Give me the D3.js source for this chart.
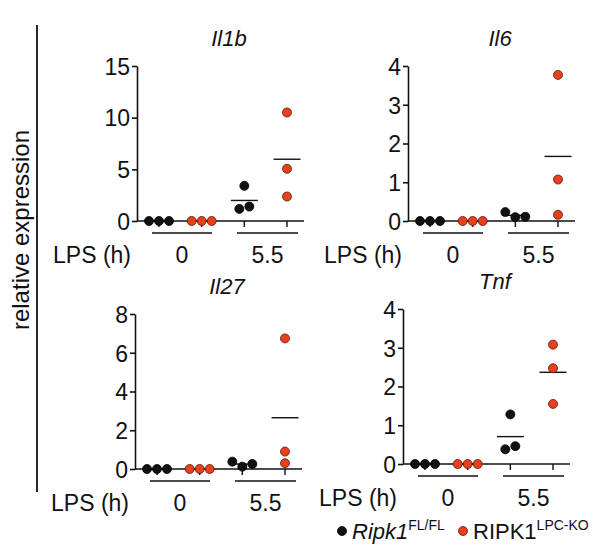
<!DOCTYPE html>
<html lang="en">
<head>
<meta charset="UTF-8">
<title>relative expression</title>
<style>
  body { margin: 0; background: #fff; }
  svg text { font-family: "Liberation Sans", Arial, Helvetica, sans-serif; fill: #111; }
</style>
</head>
<body>
<svg width="595" height="546"></svg>
<script src="https://cdn.jsdelivr.net/npm/d3@7"></script>
<script>
// data
let genes = ["Il1b", "Il6", "Il27", "Tnf"];
let lpsTimes = ["0", "5.5"];
let genotypes = ["FL", "KO"];
let groupKeys = ["0-FL", "0-KO", "5.5-FL", "5.5-KO"];
let yMaxes = [15, 4, 8, 4];
let yTicks = [[0, 5, 10, 15], [0, 1, 2, 3, 4], [0, 2, 4, 6, 8], [0, 1, 2, 3, 4]];
// one array per group: 0 h FL, 0 h KO, 5.5 h FL, 5.5 h KO
let il1b = [[0, 0, 0], [0, 0, 0], [1.17, 3.4, 1.4], [10.5, 5.06, 2.37]];
let il6 = [[0, 0, 0], [0, 0, 0], [0.23, 0.1, 0.11], [3.77, 1.07, 0.16]];
let il27 = [[0, 0, 0], [0, 0, 0], [0.38, 0.12, 0.26], [6.74, 0.9, 0.3]];
let tnf = [[0, 0, 0], [0, 0, 0], [0.38, 1.28, 0.46], [3.08, 2.47, 1.55]];
let allValues = [il1b, il6, il27, tnf];

// layout
let svg = d3.select("svg");
let origins = [[137, 221], [408, 221], [135, 469], [403, 464]]; // axis x, zero y
let plotH = 155;
let axisLen = 167;
let r = 4.5;
let colors = { FL: "#111111", KO: "#e8401c" };
let strokes = { FL: "#000000", KO: "#5a1608" };

let x = d3.scalePoint().domain(groupKeys).range([22, 150]);

function swarm(vals, y) {
    // cluster points that overlap vertically and spread them sideways
    let idx = vals.map((v, i) => i).sort((a, b) => y(vals[a]) - y(vals[b]));
    let clusters = [];
    idx.forEach(i => {
        let last = clusters[clusters.length - 1];
        if (last && Math.abs(y(vals[i]) - y(vals[last[last.length - 1]])) < 2 * r) {
            last.push(i);
        } else {
            clusters.push([i]);
        }
    });
    let offs = new Array(vals.length).fill(0);
    clusters.forEach(c => {
        c.sort((a, b) => a - b);
        c.forEach((i, k) => { offs[i] = (k - (c.length - 1) / 2) * 10; });
    });
    return offs;
}

genes.forEach((gene, gi) => {
    let [ox, oy] = origins[gi];
    let g = svg.append("g").attr("transform", "translate(" + ox + "," + oy + ")");
    let y = d3.scaleLinear().domain([0, yMaxes[gi]]).range([0, -plotH]);

    // title
    g.append("text")
        .attr("x", 92).attr("y", -plotH - 20)
        .attr("text-anchor", "middle")
        .style("font-style", "italic")
        .style("font-size", "22px")
        .text(gene);

    // y axis
    let ya = g.append("g").call(d3.axisLeft(y).tickValues(yTicks[gi]).tickFormat(d3.format("d"))
        .tickSize(5).tickSizeOuter(0).tickPadding(2));
    ya.selectAll("text").style("font-size", "23px").attr("dy", "0.36em");
    ya.selectAll("line, path").attr("stroke", "#111").attr("stroke-width", 1.6);

    // x axis line with ticks at group centres
    g.append("line").attr("x1", 0).attr("x2", axisLen).attr("y1", 0).attr("y2", 0)
        .attr("stroke", "#111").attr("stroke-width", 1.6);
    g.selectAll(".xt").data(groupKeys).enter().append("line")
        .attr("x1", d => x(d)).attr("x2", d => x(d))
        .attr("y1", 0).attr("y2", 6)
        .attr("stroke", "#111").attr("stroke-width", 1.4);

    // LPS labels
    let bars = [[15, 75], [100, 161]];
    lpsTimes.forEach((t, ti) => {
        g.append("line").attr("x1", bars[ti][0]).attr("x2", bars[ti][1])
            .attr("y1", 12).attr("y2", 12).attr("stroke", "#111").attr("stroke-width", 1.6);
        g.append("text").attr("x", (bars[ti][0] + bars[ti][1]) / 2).attr("y", 42)
            .attr("text-anchor", "middle").style("font-size", "23px").text(t);
    });
    g.append("text").attr("x", -6).attr("y", 42).attr("text-anchor", "end")
        .style("font-size", "23px").text("LPS (h)");

    // points + means
    allValues[gi].forEach((vals, k) => {
        let geno = genotypes[k % 2];
        let cx = x(groupKeys[k]);
        let offs = swarm(vals, y);
        let m = d3.mean(vals);
        g.append("line").attr("x1", cx - 13.5).attr("x2", cx + 13.5)
            .attr("y1", y(m)).attr("y2", y(m))
            .attr("stroke", "#111").attr("stroke-width", 1.4);
        g.selectAll(".p" + k).data(vals).enter().append("circle")
            .attr("cx", (d, i) => cx + offs[i])
            .attr("cy", d => y(d))
            .attr("r", r)
            .style("fill", colors[geno])
            .style("stroke", strokes[geno])
            .style("stroke-width", 0.8);
    });
});

// left bracket line and y label
svg.append("line").attr("x1", 37).attr("x2", 37).attr("y1", 25).attr("y2", 492)
    .attr("stroke", "#111").attr("stroke-width", 1.8);
svg.append("text").attr("transform", "translate(29,230) rotate(-90)")
    .attr("text-anchor", "middle").style("font-size", "24px").text("relative expression");

// legend
let legend = svg.append("g").attr("transform", "translate(342,531)");
legend.append("circle").attr("cx", 0).attr("cy", 0).attr("r", r)
    .style("fill", colors.FL).style("stroke", strokes.FL).style("stroke-width", 0.8);
let t1 = legend.append("text").attr("x", 10).attr("y", 8).style("font-size", "22px");
t1.append("tspan").style("font-style", "italic").text("Ripk1");
t1.append("tspan").attr("dy", -9).style("font-size", "14px").text("FL/FL");
legend.append("circle").attr("cx", 121).attr("cy", 0).attr("r", r)
    .style("fill", colors.KO).style("stroke", strokes.KO).style("stroke-width", 0.8);
let t2 = legend.append("text").attr("x", 131).attr("y", 8).style("font-size", "22px");
t2.append("tspan").text("RIPK1");
t2.append("tspan").attr("dy", -9).style("font-size", "14px").text("LPC-KO");
</script>
</body>
</html>
